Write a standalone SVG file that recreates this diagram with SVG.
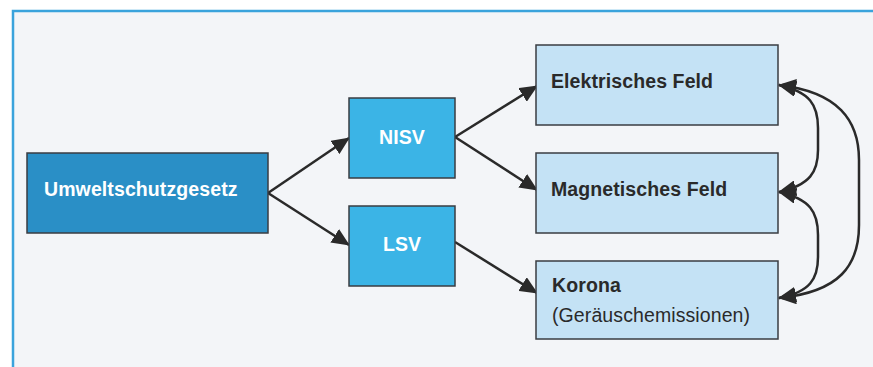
<svg xmlns="http://www.w3.org/2000/svg" width="873" height="367" viewBox="0 0 873 367">
<style>
.box{stroke:#3a3d42;stroke-width:1.5}
.dark{fill:#2a8fc6}
.mid{fill:#3bb4e6}
.light{fill:#c4e2f5}
.t{font-family:"Liberation Sans",Arial,sans-serif;font-size:19.5px;letter-spacing:0.1px}
.b{font-weight:bold}
.w{fill:#ffffff}
.k{fill:#2a2a2a}
.c{fill:none;stroke:#2a2a2a;stroke-width:2.5}
</style>
<defs>
<marker id="ah" markerUnits="userSpaceOnUse" markerWidth="18" markerHeight="16" viewBox="0 0 18 16" refX="17" refY="8" orient="auto-start-reverse">
<path d="M0,0 L18,8 L0,16 Z" fill="#2a2a2a"/>
</marker>
</defs>
<rect x="0" y="0" width="873" height="367" fill="#ffffff"/>
<rect x="13" y="11" width="880" height="380" fill="#f3f5f8" stroke="#3aa3dc" stroke-width="2.5"/>
<g id="connectors">
<line class="c" x1="268" y1="193" x2="349" y2="138" marker-end="url(#ah)"/>
<line class="c" x1="268" y1="193" x2="349" y2="245" marker-end="url(#ah)"/>
<line class="c" x1="455" y1="137" x2="537" y2="86" marker-end="url(#ah)"/>
<line class="c" x1="455" y1="137" x2="537" y2="190" marker-end="url(#ah)"/>
<line class="c" x1="455" y1="242" x2="537" y2="293" marker-end="url(#ah)"/>
<path class="c" d="M779,85 C810,92 818,105 818,128 L818,150 C818,172 810,185 779,192" marker-start="url(#ah)" marker-end="url(#ah)"/>
<path class="c" d="M779,192 C810,199 818,212 818,235 L818,257 C818,279 810,292 779,298" marker-start="url(#ah)" marker-end="url(#ah)"/>
<path class="c" d="M779,85 C838,92 859,120 859,160 L859,225 C859,265 840,292 779,298" marker-start="url(#ah)" marker-end="url(#ah)"/>
</g>
<g id="umweltschutzgesetz">
<rect class="box dark" x="27" y="153" width="241" height="80"/>
<text class="t b w" x="44" y="196">Umweltschutzgesetz</text>
</g>
<g id="nisv">
<rect class="box mid" x="349" y="98" width="106" height="80"/>
<text class="t b w" x="402" y="144" text-anchor="middle">NISV</text>
</g>
<g id="lsv">
<rect class="box mid" x="349" y="206" width="106" height="80"/>
<text class="t b w" x="402" y="251" text-anchor="middle">LSV</text>
</g>
<g id="elektrisches-feld">
<rect class="box light" x="536" y="45" width="242" height="80"/>
<text class="t b k" x="551" y="88">Elektrisches Feld</text>
</g>
<g id="magnetisches-feld">
<rect class="box light" x="536" y="153" width="242" height="80"/>
<text class="t b k" x="551" y="196">Magnetisches Feld</text>
</g>
<g id="korona">
<rect class="box light" x="536" y="261" width="242" height="78"/>
<text class="t b k" x="552" y="292">Korona</text>
<text class="t k" x="552" y="322">(Geräuschemissionen)</text>
</g>
</svg>
